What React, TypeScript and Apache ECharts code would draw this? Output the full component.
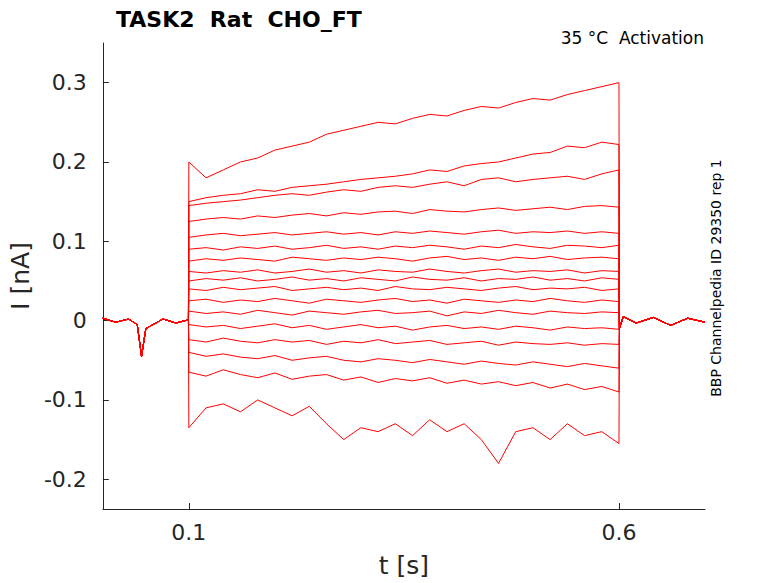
import * as echarts from "echarts";
import { useEffect, useRef } from "react";

const preTimes = [0, 0.015, 0.03, 0.04, 0.045, 0.05, 0.07, 0.085, 0.0995];
const preValues = [0.003, -0.002, 0.002, -0.005, -0.045, -0.01, 0.002, -0.003, 0.001];
const pulseTimes = [
  0.1, 0.12, 0.14, 0.16, 0.18, 0.2, 0.22, 0.24, 0.26, 0.28, 0.3, 0.32, 0.34,
  0.36, 0.38, 0.4, 0.42, 0.44, 0.46, 0.48, 0.5, 0.52, 0.54, 0.56, 0.58, 0.6,
];
const postTimes = [0.6005, 0.605, 0.62, 0.64, 0.66, 0.68, 0.7];
const postValues = [-0.01, 0.005, -0.003, 0.004, -0.006, 0.003, -0.002];

const traces: number[][] = [
  [0.2, 0.18, 0.19, 0.2, 0.205, 0.215, 0.22, 0.225, 0.235, 0.24, 0.245, 0.25, 0.248, 0.255, 0.26, 0.258, 0.265, 0.27, 0.268, 0.275, 0.28, 0.278, 0.285, 0.29, 0.295, 0.3],
  [0.15, 0.155, 0.158, 0.16, 0.165, 0.163, 0.168, 0.17, 0.172, 0.175, 0.178, 0.18, 0.182, 0.185, 0.19, 0.188, 0.195, 0.198, 0.2, 0.205, 0.21, 0.212, 0.22, 0.218, 0.225, 0.222],
  [0.145, 0.148, 0.15, 0.152, 0.155, 0.158, 0.16, 0.158, 0.162, 0.165, 0.163, 0.168, 0.17, 0.168, 0.172, 0.175, 0.17, 0.178, 0.18, 0.175, 0.178, 0.18, 0.182, 0.178, 0.185, 0.19],
  [0.125, 0.128, 0.13, 0.128, 0.132, 0.13, 0.133, 0.135, 0.132, 0.136, 0.134, 0.137, 0.138, 0.135, 0.14, 0.138, 0.137, 0.14, 0.142, 0.139, 0.141, 0.143, 0.14, 0.144, 0.145, 0.143],
  [0.105, 0.108, 0.11, 0.107, 0.109, 0.111, 0.108, 0.11, 0.112, 0.109, 0.111, 0.108, 0.112, 0.11, 0.113, 0.111, 0.109, 0.112, 0.114, 0.11, 0.112, 0.111, 0.113, 0.11, 0.112, 0.11],
  [0.09, 0.092, 0.089, 0.093, 0.091, 0.094, 0.09, 0.092, 0.095, 0.091, 0.093, 0.09, 0.094, 0.092, 0.095, 0.093, 0.09, 0.094, 0.092, 0.096, 0.093, 0.091, 0.095, 0.094, 0.092, 0.095],
  [0.075, 0.078, 0.076, 0.079, 0.077, 0.075, 0.08, 0.078, 0.076, 0.079, 0.077, 0.08, 0.078, 0.075, 0.079, 0.081, 0.077, 0.079, 0.076, 0.08, 0.078, 0.081, 0.077, 0.079, 0.08, 0.078],
  [0.062, 0.06, 0.063, 0.061, 0.064, 0.06, 0.062, 0.065, 0.061, 0.063, 0.06, 0.064, 0.062, 0.061, 0.065, 0.062, 0.06, 0.063, 0.065, 0.061, 0.063, 0.062, 0.064, 0.06, 0.063, 0.062],
  [0.05, 0.053, 0.051, 0.054, 0.05, 0.052, 0.055, 0.051, 0.053, 0.05, 0.054, 0.052, 0.05, 0.055, 0.052, 0.051, 0.054, 0.05, 0.053, 0.052, 0.055, 0.051, 0.053, 0.05, 0.054, 0.052],
  [0.04, 0.038, 0.042, 0.039, 0.041, 0.043, 0.038, 0.04, 0.042, 0.039, 0.041, 0.038, 0.043, 0.04, 0.039, 0.042, 0.04, 0.038, 0.041, 0.043, 0.039, 0.041, 0.04, 0.042, 0.038, 0.04],
  [0.025, 0.027, 0.023, 0.026, 0.024, 0.028, 0.025, 0.022, 0.027, 0.025, 0.023, 0.026, 0.028, 0.024, 0.026, 0.022, 0.027, 0.025, 0.023, 0.026, 0.024, 0.028, 0.025, 0.023, 0.026, 0.024],
  [0.012, 0.009, 0.011, 0.008, 0.013, 0.01, 0.007, 0.012, 0.01, 0.008, 0.011, 0.013, 0.009, 0.01, 0.012, 0.006, 0.011, 0.009, 0.013, 0.01, 0.008, 0.012, 0.01, 0.009, 0.011, 0.01],
  [-0.005, -0.008, -0.006, -0.01, -0.007, -0.004, -0.009, -0.006, -0.011, -0.008, -0.005, -0.009, -0.007, -0.012, -0.008, -0.006, -0.01, -0.008, -0.011, -0.007, -0.009, -0.012, -0.008, -0.01, -0.009, -0.011],
  [-0.024, -0.027, -0.022, -0.026, -0.028, -0.024, -0.027, -0.025, -0.03, -0.026, -0.028, -0.024, -0.029, -0.027, -0.025, -0.03, -0.028, -0.026, -0.031, -0.027, -0.029, -0.03, -0.028, -0.031, -0.029, -0.03],
  [-0.04, -0.045, -0.042, -0.046, -0.048, -0.044, -0.05, -0.047, -0.045, -0.05, -0.052, -0.048, -0.05, -0.053, -0.049, -0.052, -0.055, -0.051, -0.054, -0.056, -0.052, -0.055, -0.058, -0.054, -0.057, -0.06],
  [-0.065, -0.07, -0.062, -0.068, -0.072, -0.066, -0.074, -0.07, -0.068, -0.075, -0.071, -0.078, -0.073, -0.076, -0.072, -0.079, -0.075, -0.08, -0.077, -0.082, -0.078, -0.085, -0.08, -0.087, -0.083, -0.09],
  [-0.135, -0.11, -0.105, -0.115, -0.1, -0.11, -0.12, -0.108, -0.13, -0.15, -0.135, -0.14, -0.13, -0.145, -0.125, -0.14, -0.13, -0.15, -0.18, -0.14, -0.135, -0.15, -0.13, -0.145, -0.14, -0.155],
];

const xTicks = [0.1, 0.6];
const yTicks = [-0.2, -0.1, 0, 0.1, 0.2, 0.3];

const font = "DejaVu Sans";

export default function App() {
  const ref = useRef<HTMLDivElement | null>(null);

  useEffect(() => {
    if (!ref.current) return;
    const chart = echarts.init(ref.current, null, { renderer: "svg" });
    const times = [...preTimes, ...pulseTimes, ...postTimes];
    const axisLine = { show: true, onZero: false, lineStyle: { color: "#262626", width: 1 } };
    chart.setOption({
      animation: false,
      textStyle: { fontFamily: font },
      grid: { left: 101, right: 73, top: 43, bottom: 70 },
      title: {
        text: "TASK2  Rat  CHO_FT",
        left: 111,
        top: 3,
        textStyle: { fontFamily: font, fontSize: 22, fontWeight: "bold", color: "#000" },
      },
      graphic: [
        {
          type: "text",
          right: 74,
          top: 29,
          style: { text: "35 °C  Activation", font: `17px ${font}`, fill: "#000" },
        },
        {
          type: "text",
          x: 716,
          y: 278,
          rotation: Math.PI / 2,
          style: {
            text: "BBP Channelpedia ID 29350 rep 1",
            font: `14px ${font}`,
            fill: "#000",
            align: "center",
            verticalAlign: "middle",
          },
        },
      ],
      xAxis: {
        type: "value",
        min: 0,
        max: 0.7,
        name: "t [s]",
        nameLocation: "middle",
        nameGap: 44,
        nameTextStyle: { fontSize: 25, color: "#262626", fontFamily: font },
        axisLine,
        splitLine: { show: false },
        axisTick: { inside: true, length: 6, customValues: xTicks, lineStyle: { color: "#262626" } },
        axisLabel: { customValues: xTicks, fontSize: 22, color: "#262626", margin: 12, formatter: (v: number) => String(v) },
      },
      yAxis: {
        type: "value",
        min: -0.2375,
        max: 0.35,
        name: "I [nA]",
        nameLocation: "middle",
        nameGap: 62,
        nameTextStyle: { fontSize: 25, color: "#262626", fontFamily: font },
        axisLine,
        splitLine: { show: false },
        axisTick: { inside: true, length: 6, customValues: yTicks, lineStyle: { color: "#262626" } },
        axisLabel: { customValues: yTicks, fontSize: 22, color: "#262626", margin: 16, formatter: (v: number) => String(Math.round(v * 10) / 10) },
      },
      series: traces.map((pulse, i) => ({
        name: `trace${i}`,
        type: "line",
        symbol: "none",
        lineStyle: { color: "#ff0000", width: 1 },
        data: times.map((t, j) => [t, [...preValues, ...pulse, ...postValues][j]]),
      })),
    });
    return () => chart.dispose();
  }, []);

  return <div ref={ref} style={{ position: "absolute", left: 0, top: 0, width: 778, height: 583 }} />;
}
